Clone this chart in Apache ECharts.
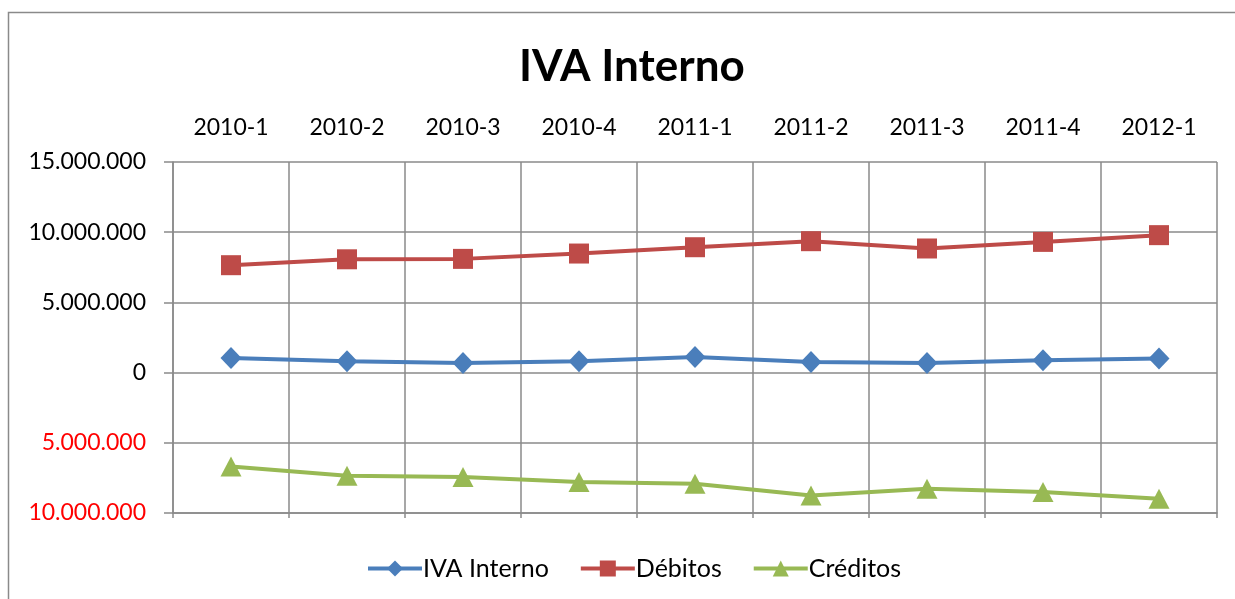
<!DOCTYPE html>
<html>
<head>
<meta charset="utf-8">
<script src="https://cdn.jsdelivr.net/npm/echarts@6/dist/echarts.min.js"></script>
<style>html,body{margin:0;padding:0;background:#fff;}#c{width:1235px;height:599px;}</style>
</head>
<body>
<div id="c"></div>
<script>
var categories = ['2010-1','2010-2','2010-3','2010-4','2011-1','2011-2','2011-3','2011-4','2012-1'];
var ivaInterno = [1040000, 800000, 690000, 800000, 1110000, 760000, 690000, 880000, 1000000];
var debitos = [7650000, 8070000, 8100000, 8480000, 8930000, 9360000, 8840000, 9310000, 9790000];
var creditos = [-6680000, -7350000, -7440000, -7800000, -7920000, -8750000, -8270000, -8510000, -8980000];
var seriesNames = ['IVA Interno', 'Débitos', 'Créditos'];

var FONT = 'Lato, "Open Sans", sans-serif';
var GRID = '#8a8a8a';
function fmt(v){
  var s = String(Math.abs(v));
  return s.replace(/\B(?=(\d{3})+(?!\d))/g, '.');
}
var chart = echarts.init(document.getElementById('c'), null, {renderer:'canvas'});
chart.setOption({
  animation: false,
  backgroundColor: '#fff',
  textStyle: {fontFamily: FONT},
  graphic: [{
    type: 'rect', silent: true,
    shape: {x: 8.5, y: 12.5, width: 2000, height: 2000},
    style: {fill: 'none', stroke: '#8a8a8a', lineWidth: 1.5}
  }],
  title: {
    text: 'IVA Interno', left: 514, top: 40,
    textStyle: {fontFamily: FONT, fontWeight: 'bold', fontSize: 44, color: '#000'}
  },
  legend: {
    top: 551, left: 361,
    itemWidth: 54, itemHeight: 20, itemGap: 30,
    lineStyle: {width: 4},
    textStyle: {fontFamily: FONT, fontSize: 25, color: '#000', padding: [0,0,0,-4]},
    data: seriesNames
  },
  grid: {left: 173, top: 162, right: 18, bottom: 86, containLabel: false},
  xAxis: [{
    type: 'category', data: categories, position: 'top', boundaryGap: true,
    axisLine: {show: false}, axisTick: {show: false},
    axisLabel: {fontFamily: FONT, fontSize: 23, color: '#000', margin: 23},
    splitLine: {show: true, lineStyle: {color: GRID, width: 1.5}}
  }, {
    type: 'category', data: categories, position: 'bottom', boundaryGap: true,
    axisLine: {show: true, onZero: true, lineStyle: {color: GRID, width: 1.5}},
    axisTick: {show: true, length: 5, lineStyle: {color: GRID, width: 1.5}},
    axisLabel: {show: false}, splitLine: {show: false}
  }],
  yAxis: {
    type: 'value', min: -10000000, max: 15000000, interval: 5000000,
    axisLine: {show: true, lineStyle: {color: GRID, width: 1.5}},
    axisTick: {show: true, length: 9, lineStyle: {color: GRID, width: 1.5}},
    axisLabel: {
      fontFamily: FONT, fontSize: 23, margin: 27,
      formatter: function(v){ return fmt(v); },
      color: function(v){ return Number(v) < 0 ? '#ff0000' : '#000'; }
    },
    splitLine: {show: true, lineStyle: {color: GRID, width: 1.5}}
  },
  series: [{
    name: seriesNames[0], type: 'line', data: ivaInterno,
    symbol: 'diamond', symbolSize: [21, 22],
    lineStyle: {color: '#4A7EBB', width: 4}, itemStyle: {color: '#4A7EBB'}
  }, {
    name: seriesNames[1], type: 'line', data: debitos,
    symbol: 'rect', symbolSize: 20,
    lineStyle: {color: '#BE4B48', width: 4}, itemStyle: {color: '#BE4B48'}
  }, {
    name: seriesNames[2], type: 'line', data: creditos,
    symbol: 'triangle', symbolSize: [21, 20],
    lineStyle: {color: '#98B954', width: 4}, itemStyle: {color: '#98B954'}
  }]
});
</script>
</body>
</html>
